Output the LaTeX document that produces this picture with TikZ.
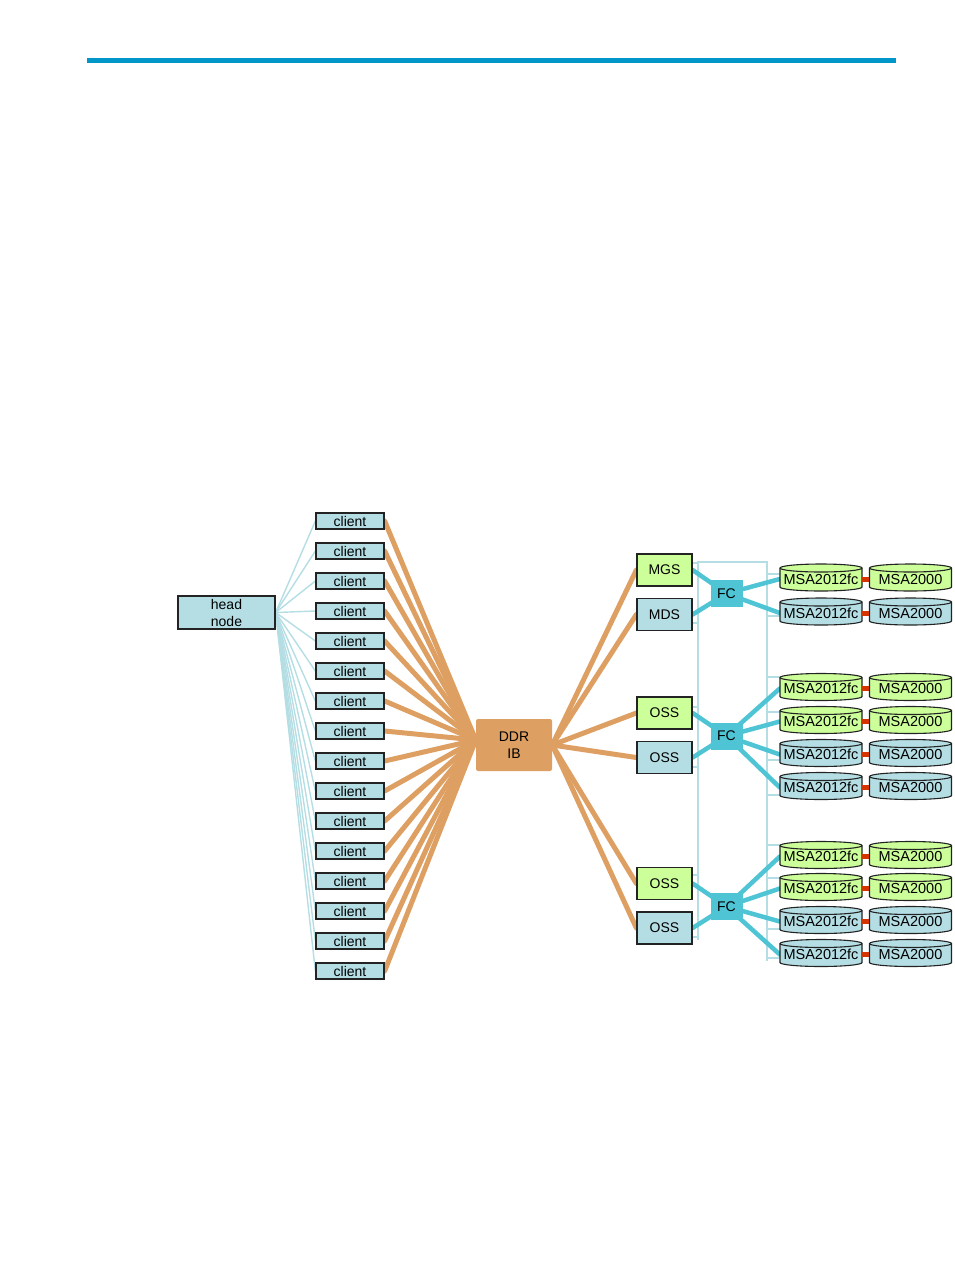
\documentclass[tikz,border=0pt]{standalone}
\usepackage{fontspec}
\setmainfont{Liberation Sans}
\usetikzlibrary{calc}
\definecolor{pblue}{RGB}{180,222,228}
\definecolor{lgreen}{RGB}{204,255,153}
\definecolor{ibor}{RGB}{222,160,98}
\definecolor{fccyan}{RGB}{78,196,212}
\definecolor{redc}{RGB}{212,52,0}
\definecolor{hdr}{RGB}{0,150,200}
\definecolor{edgec}{RGB}{35,35,35}
\pgfdeclarelayer{bg}
\pgfsetlayers{bg,main}
\newcommand\mycyl[5]{%
  \filldraw[fill=#4,draw=edgec,line width=1.1pt] ({#2-41},{#3-9.5}) -- ({#2-41},{#3+9.5}) arc[start angle=180,end angle=0,x radius=41,y radius=4] -- ({#2+41},{#3-9.5}) arc[start angle=0,end angle=-180,x radius=41,y radius=4] -- cycle;
  \draw[draw=edgec,line width=1.1pt] ({#2-41},{#3-9.5}) arc[start angle=180,end angle=0,x radius=41,y radius=4];
  \node[cyltext] (#1) at (#2,{#3+1.5}) {#5};
}
\begin{document}
\begin{tikzpicture}[x=1pt,y=-1pt,
  box/.style={draw=edgec,line width=1.3pt,fill=pblue,inner sep=0pt,font=\fontsize{14}{17}\selectfont},
  clientbox/.style={box,minimum width=68pt,minimum height=16pt},
  srv/.style={box,minimum width=55pt,minimum height=32pt},
  grn/.style={fill=lgreen},
  ddrbox/.style={fill=ibor,rounded corners=2pt,minimum width=76pt,minimum height=52pt,inner sep=0pt,align=center,font=\fontsize{14}{17}\selectfont},
  fcbox/.style={fill=fccyan,minimum width=32pt,minimum height=27pt,inner sep=0pt,font=\fontsize{14}{17}\selectfont},
  cyltext/.style={rectangle,inner sep=0pt,minimum width=82pt,minimum height=18pt,font=\fontsize{14.5}{16}\selectfont},
  hl/.style={draw=pblue,line width=1.4pt},
  ib/.style={draw=ibor,line width=5pt,line cap=round},
  fcl/.style={draw=fccyan,line width=4.5pt,line cap=round},
  net/.style={draw=pblue,line width=1.2pt},
  rl/.style={draw=redc,line width=5pt}
]
\useasboundingbox (0,0) rectangle (954,1270);
\fill[hdr] (87,58) rectangle (896,63);

% nodes
\node[box,minimum width=97pt,minimum height=33pt,align=center] (head) at (226.5,612.5) {head\\node};
\foreach \i in {1,...,16} {
  \node[clientbox] (c\i) at (350,{521+30*(\i-1)}) {client};
}
\node[ddrbox] (ddr) at (514,745) {DDR\\IB};
\coordinate (ddrL) at ([yshift=5pt]ddr.west);
\node[srv,grn] (mgs) at (664.5,570) {MGS};
\node[srv] (mds) at (664.5,614.5) {MDS};
\node[srv,grn] (oss1) at (664.5,713) {OSS};
\node[srv] (oss2) at (664.5,757.5) {OSS};
\node[srv,grn] (oss3) at (664.5,883.5) {OSS};
\node[srv] (oss4) at (664.5,928) {OSS};
\node[fcbox] (fc1) at (726.5,593.5) {FC};
\node[fcbox] (fc2) at (726.5,736) {FC};
\node[fcbox] (fc3) at (726.5,906.5) {FC};

\mycyl{a1}{821}{577.5}{lgreen}{MSA2012fc}\mycyl{b1}{910.5}{577.5}{lgreen}{MSA2000}
\mycyl{a2}{821}{611.5}{pblue}{MSA2012fc}\mycyl{b2}{910.5}{611.5}{pblue}{MSA2000}
\mycyl{a3}{821}{687}{lgreen}{MSA2012fc}\mycyl{b3}{910.5}{687}{lgreen}{MSA2000}
\mycyl{a4}{821}{720}{lgreen}{MSA2012fc}\mycyl{b4}{910.5}{720}{lgreen}{MSA2000}
\mycyl{a5}{821}{753}{pblue}{MSA2012fc}\mycyl{b5}{910.5}{753}{pblue}{MSA2000}
\mycyl{a6}{821}{786}{pblue}{MSA2012fc}\mycyl{b6}{910.5}{786}{pblue}{MSA2000}
\mycyl{a7}{821}{855}{lgreen}{MSA2012fc}\mycyl{b7}{910.5}{855}{lgreen}{MSA2000}
\mycyl{a8}{821}{887}{lgreen}{MSA2012fc}\mycyl{b8}{910.5}{887}{lgreen}{MSA2000}
\mycyl{a9}{821}{920}{pblue}{MSA2012fc}\mycyl{b9}{910.5}{920}{pblue}{MSA2000}
\mycyl{a10}{821}{953}{pblue}{MSA2012fc}\mycyl{b10}{910.5}{953}{pblue}{MSA2000}

\foreach \i in {1,...,10} {
  \draw[rl] (a\i.east) -- (b\i.west);
}

\begin{pgfonlayer}{bg}
  % management network
  \coordinate (busLt) at (698,562);
  \coordinate (busLb) at (698,940);
  \coordinate (busRt) at (767,562);
  \coordinate (busRb) at (767,961);
  \draw[net] (busLb) -- (busLt) -- (busRt) -- (busRb);
  \foreach \y in {563,623,707,767,875,937} { \draw[net] (692,\y) -- (698,\y); }
  \foreach \y in {574,616,677,712,760,795,845,878,929,958} { \draw[net] (767,\y) -- (781,\y); }
  % head node to clients
  \foreach \i in {1,...,16} { \draw[hl] (head.east) -- (c\i.west); }
  % clients to IB
  \foreach \i in {1,...,16} { \draw[ib] (c\i.east) -- (ddrL); }
  \foreach \s in {mgs,mds,oss1,oss2,oss3,oss4} { \draw[ib] (ddr.east) -- (\s.west); }
  % FC links
  \draw[fcl] (mgs.east) -- (fc1.center);
  \draw[fcl] (mds.east) -- (fc1.center);
  \draw[fcl] (oss1.east) -- (fc2.center);
  \draw[fcl] (oss2.east) -- (fc2.center);
  \draw[fcl] (oss3.east) -- (fc3.center);
  \draw[fcl] (oss4.east) -- (fc3.center);
  \foreach \a in {a1,a2} { \draw[fcl] (fc1.center) -- (\a.west); }
  \foreach \a in {a3,a4,a5,a6} { \draw[fcl] (fc2.center) -- (\a.west); }
  \foreach \a in {a7,a8,a9,a10} { \draw[fcl] (fc3.center) -- (\a.west); }
\end{pgfonlayer}
\end{tikzpicture}
\end{document}
